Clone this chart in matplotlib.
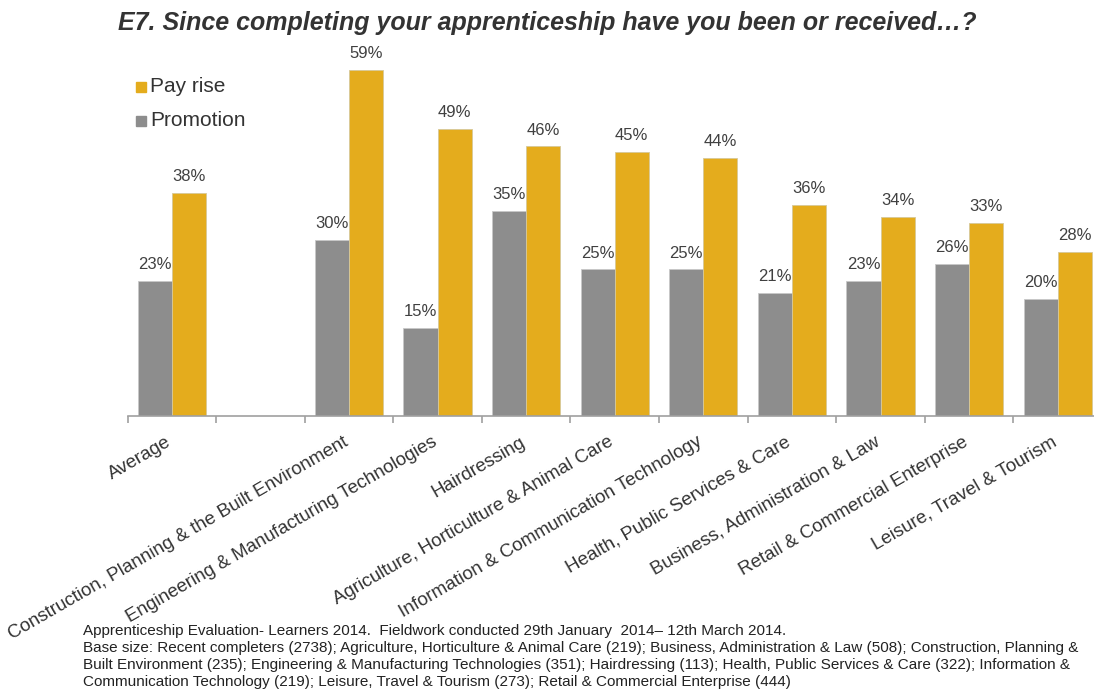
import numpy as np
import matplotlib
matplotlib.use('Agg')
import matplotlib.pyplot as plt
from matplotlib.patches import Rectangle

plt.rcParams['font.family'] = ['Liberation Sans', 'DejaVu Sans']

# ---------------------------------------------------------------------------
# Data
# ---------------------------------------------------------------------------

categories = [
    'Average',
    '',
    'Construction, Planning & the Built Environment',
    'Engineering & Manufacturing Technologies',
    'Hairdressing',
    'Agriculture, Horticulture & Animal Care',
    'Information & Communication Technology',
    'Health, Public Services & Care',
    'Business, Administration & Law',
    'Retail & Commercial Enterprise',
    'Leisure, Travel & Tourism',
]
promotion = [23, None, 30, 15, 35, 25, 25, 21, 23, 26, 20]
pay_rise = [38, None, 59, 49, 46, 45, 44, 36, 34, 33, 28]

GOLD = '#E4AC1D'
GREY = '#8D8D8D'
TXT = '#404040'

title = 'E7. Since completing your apprenticeship have you been or received\u2026?'
footnote = [
    'Apprenticeship Evaluation- Learners 2014.  Fieldwork conducted 29th January  2014\u2013 12th March 2014.',
    'Base size: Recent completers (2738); Agriculture, Horticulture & Animal Care (219); Business, Administration & Law (508); Construction, Planning &',
    'Built Environment (235); Engineering & Manufacturing Technologies (351); Hairdressing (113); Health, Public Services & Care (322); Information &',
    'Communication Technology (219); Leisure, Travel & Tourism (273); Retail & Commercial Enterprise (444)',
]

# ---------------------------------------------------------------------------
# Plot
# ---------------------------------------------------------------------------

W, H = 1094, 691
fig = plt.figure(figsize=(W / 100, H / 100), dpi=100)

ax_l, ax_r = 127.5, 1102.0
ax_b, ax_t = 416.0, 35.0
ax = fig.add_axes([ax_l / W, 1 - ax_b / H, (ax_r - ax_l) / W, (ax_b - ax_t) / H])

x = np.arange(len(categories))
bw = 0.385

for i in range(len(categories)):
    if promotion[i] is None:
        continue
    ax.bar(x[i] - bw / 2, promotion[i], bw, color=GREY, edgecolor='#c8c8c8', linewidth=0.6)
    ax.bar(x[i] + bw / 2, pay_rise[i], bw, color=GOLD, edgecolor='#d6c89a', linewidth=0.6)
    ax.text(x[i] - bw / 2, promotion[i] + 1.5, '%d%%' % promotion[i], ha='center', va='bottom',
            fontsize=12, color=TXT)
    ax.text(x[i] + bw / 2, pay_rise[i] + 1.5, '%d%%' % pay_rise[i], ha='center', va='bottom',
            fontsize=12, color=TXT)

ax.set_xlim(-0.5, len(categories) - 0.5)
ax.set_ylim(0, 65)

for s in ['top', 'right', 'left']:
    ax.spines[s].set_visible(False)
ax.spines['bottom'].set_color('#a0a0a0')
ax.spines['bottom'].set_linewidth(1.2)
ax.set_yticks([])

# tick marks between groups, rotated labels ending under each group centre
ax.set_xticks(np.arange(len(categories) + 1) - 0.5)
ax.set_xticklabels([])
ax.tick_params(axis='x', length=5, color='#a0a0a0', width=1.2)
for i, c in enumerate(categories):
    ax.text(x[i], -4.9, c, rotation=30, rotation_mode='anchor',
            ha='right', va='baseline', fontsize=13.5, color='#333333')

# legend
for k, (lab, col) in enumerate([('Pay rise', GOLD), ('Promotion', GREY)]):
    yy = 87 + k * 34
    fig.patches.append(Rectangle((136 / W, 1 - (yy + 5) / H), 10 / W, 10 / H,
                                 transform=fig.transFigure, color=col, figure=fig))
    fig.text(150 / W, 1 - yy / H, lab, fontsize=15, color='#333333', va='center', ha='left')

fig.text(118 / W, 1 - 23 / H, title, fontsize=18, fontweight='bold', fontstyle='italic',
         color='#333333', va='center', ha='left')

for k, line in enumerate(footnote):
    fig.text(83 / W, 1 - (631 + 17 * k) / H, line, fontsize=11, color='#222222',
             va='center', ha='left')

fig.savefig('out.png', dpi=100)
plt.close(fig)
